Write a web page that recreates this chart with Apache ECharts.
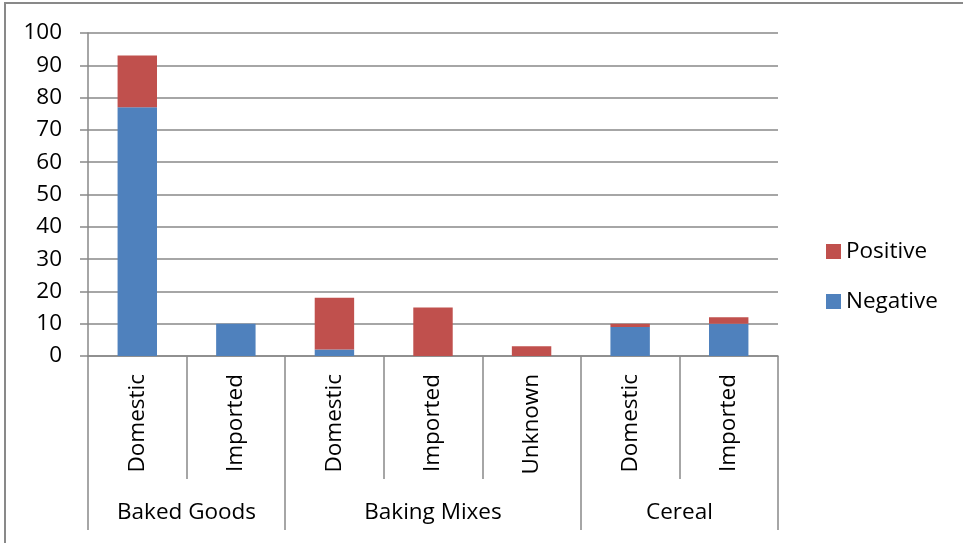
<!DOCTYPE html>
<html>
<head>
<meta charset="utf-8">
<script src="https://cdn.jsdelivr.net/npm/echarts@6/dist/echarts.min.js"></script>
<style>
  html, body { margin: 0; padding: 0; background: #fff; }
  #main { width: 963px; height: 543px; }
</style>
</head>
<body>
<div id="main"></div>
<script>
// data
var subCats = ['Domestic', 'Imported', 'Domestic', 'Imported', 'Unknown', 'Domestic', 'Imported'];
var groups = ['Baked Goods', 'Baking Mixes', 'Cereal'];
var groupSizes = [2, 3, 2];
var negative = [77, 10, 2, 0, 0, 9, 10];
var positive = [16, 0, 16, 15, 3, 1, 2];

// group edges / centres in category units (for the second axis level)
var edges = [0];
var centres = [];
for (var g = 0; g < groupSizes.length; g++) {
    centres.push(edges[g] + groupSizes[g] / 2);
    edges.push(edges[g] + groupSizes[g]);
}

var gray = '#898989';
var font = "'Open Sans', sans-serif";

var chart = echarts.init(document.getElementById('main'));

var option = {
    animation: false,
    textStyle: { fontFamily: font, color: '#000' },
    graphic: [{
        type: 'rect',
        shape: { x: 5, y: 3, width: 1000, height: 600 },
        style: { fill: 'none', stroke: gray, lineWidth: 2 },
        silent: true
    }],
    legend: {
        orient: 'vertical',
        left: 821,
        top: 235,
        itemWidth: 15,
        itemHeight: 15,
        itemGap: 27,
        icon: 'rect',
        data: ['Positive', 'Negative'],
        textStyle: { fontFamily: font, fontSize: 22.5, lineHeight: 22, color: '#000' }
    },
    grid: {
        left: 88,
        right: 185,
        top: 33,
        bottom: 187,
        containLabel: false,
        outerBoundsMode: 'none'
    },
    xAxis: [{
        type: 'category',
        data: subCats,
        position: 'bottom',
        axisLine: { show: true, lineStyle: { color: gray, width: 1.5 } },
        axisTick: { show: true, length: 123, interval: 0, lineStyle: { color: gray, width: 1.5 } },
        axisLabel: {
            interval: 0,
            rotate: 90,
            margin: 18,
            fontFamily: font,
            fontSize: 22.5,
            color: '#000'
        },
        splitLine: { show: false }
    }, {
        type: 'value',
        position: 'bottom',
        min: 0,
        max: edges[edges.length - 1],
        axisLine: { show: false },
        axisTick: {
            show: true,
            length: 174,
            customValues: edges,
            lineStyle: { color: gray, width: 1.5 }
        },
        axisLabel: {
            margin: 145,
            customValues: centres,
            fontFamily: font,
            fontSize: 22.5,
            color: '#000',
            formatter: function (v) {
                for (var i = 0; i < centres.length; i++) {
                    if (Math.abs(centres[i] - v) < 1e-6) return groups[i];
                }
                return '';
            }
        },
        splitLine: { show: false }
    }],
    yAxis: {
        type: 'value',
        min: 0,
        max: 100,
        interval: 10,
        axisLine: { show: true, lineStyle: { color: gray, width: 1.5 } },
        axisTick: { show: true, length: 8, lineStyle: { color: gray, width: 1.5 } },
        axisLabel: { margin: 26, fontFamily: font, fontSize: 22.5, color: '#000' },
        splitLine: { show: true, lineStyle: { color: gray, width: 1.5 } }
    },
    series: [{
        name: 'Negative',
        type: 'bar',
        stack: 'total',
        xAxisIndex: 0,
        barCategoryGap: '60%',
        itemStyle: { color: '#4F81BD' },
        data: negative
    }, {
        name: 'Positive',
        type: 'bar',
        stack: 'total',
        xAxisIndex: 0,
        barCategoryGap: '60%',
        itemStyle: { color: '#C0504D' },
        data: positive
    }]
};

chart.setOption(option);
</script>
</body>
</html>
